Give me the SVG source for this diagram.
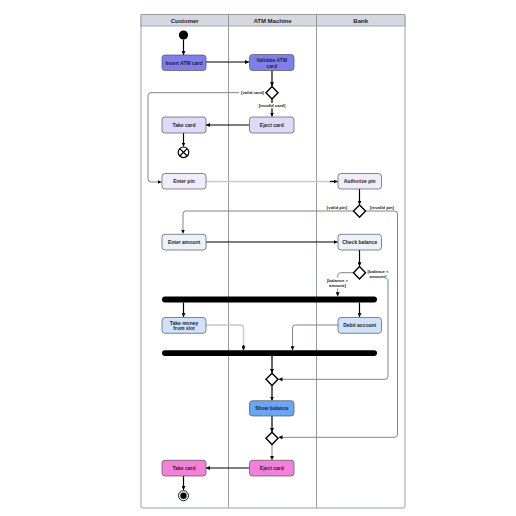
<svg xmlns="http://www.w3.org/2000/svg" width="516" height="516" viewBox="0 0 516 516">
<style>
.lane{fill:none;stroke:#9aa0a8;stroke-width:1}
.hdr{fill:#d5d9df;stroke:#8f949c;stroke-width:0.8}
.ht{font-family:"Liberation Sans",Arial,sans-serif;font-size:6px;font-weight:bold;fill:#222;text-anchor:middle;dominant-baseline:central}
.n{stroke:#555;stroke-width:0.7}
.t{font-family:"Liberation Sans",Arial,sans-serif;font-size:5px;font-weight:bold;fill:#1e1e1e;text-anchor:middle;dominant-baseline:central}
.lb{font-family:"Liberation Sans",Arial,sans-serif;font-size:4.3px;font-weight:bold;fill:#222;text-anchor:middle;dominant-baseline:central}
.c{fill:none;stroke:#000;stroke-width:1.2}
.g{fill:none;stroke:#777;stroke-width:0.9}
.lg{fill:none;stroke:#c8c8c8;stroke-width:1.4}
.d{fill:#fff;stroke:#000;stroke-width:1.4}
.bar{fill:#000}
</style>
<defs>
<marker id="a" viewBox="0 0 6 6" refX="6" refY="3" markerWidth="4" markerHeight="4" markerUnits="userSpaceOnUse" orient="auto"><path d="M0,0 L6,3 L0,6 z" fill="#000"/></marker>
</defs>
<rect x="0" y="0" width="516" height="516" fill="#fff"/>
<g id="swimlanes">
<rect x="141" y="14.5" width="264" height="493.5" rx="2" class="lane"/>
<rect x="141" y="14.5" width="264" height="11.5" class="hdr"/>
<line x1="228.5" y1="14.5" x2="228.5" y2="508" stroke="#80858d" stroke-width="0.8"/>
<line x1="316.5" y1="14.5" x2="316.5" y2="508" stroke="#80858d" stroke-width="0.8"/>
<text x="184.7" y="20.5" class="ht">Customer</text>
<text x="272.5" y="20.5" class="ht">ATM Machine</text>
<text x="360.7" y="20.5" class="ht">Bank</text>
</g>
<g id="connectors">
<path d="M183.5 39.5 V55" class="c" marker-end="url(#a)"/>
<path d="M206 62 H249" class="c" marker-end="url(#a)"/>
<path d="M272 70.5 V86.3" class="c" marker-end="url(#a)"/>
<path d="M266 92.7 H151 Q148 92.7 148 95.7 V179 Q148 182 151 182 H161.5" class="g" marker-end="url(#a)"/>
<path d="M272 99 V116.5" class="c" marker-end="url(#a)"/>
<path d="M249 125 H206" class="c" marker-end="url(#a)"/>
<path d="M183.5 133 V146.5" class="c" marker-end="url(#a)"/>
<path d="M206 181.5 H337.5" class="lg"/>
<path d="M330 181.5 H337.5" class="c" stroke-width="0.1" marker-end="url(#a)"/>
<path d="M359.5 189 V204.7" class="c" marker-end="url(#a)"/>
<path d="M353 211 H186 Q183 211 183 214 V233.5" class="g" marker-end="url(#a)"/>
<path d="M366 211 H394.5 Q397.5 211 397.5 214 V434 Q397.5 437.3 394.5 437.3 H278.5" class="g" marker-end="url(#a)"/>
<path d="M206 242 H337.5" class="c" marker-end="url(#a)"/>
<path d="M359.5 250 V266.3" class="c" marker-end="url(#a)"/>
<path d="M353 272.7 H340.7 Q337.7 272.7 337.7 275.7 V296.3" class="g" marker-end="url(#a)"/>
<path d="M388 279 V376 Q388 379.3 385 379.3 H278.5" class="g" marker-end="url(#a)"/>
<path d="M183.5 302.5 V317" class="c" marker-end="url(#a)"/>
<path d="M359.5 302.5 V317" class="c" marker-end="url(#a)"/>
<path d="M206 325 H240.5 Q243.5 325 243.5 328 V350" class="lg"/>
<path d="M243.5 345 V350.2" class="c" stroke-width="0.1" marker-end="url(#a)"/>
<path d="M338 325 H295.5 Q292.5 325 292.5 328 V350.2" class="g" marker-end="url(#a)"/>
<path d="M272 356 V373" class="c" marker-end="url(#a)"/>
<path d="M272 385.7 V400.5" class="c" marker-end="url(#a)"/>
<path d="M272 416 V432" class="c" marker-end="url(#a)"/>
<path d="M272 444.6 V460" class="g" marker-end="url(#a)"/>
<path d="M249 468 H206" class="c" marker-end="url(#a)"/>
<path d="M183.5 476 V490" class="c" marker-end="url(#a)"/>
<rect x="239" y="90" width="27" height="5.4" fill="#fff"/>
<text x="252.5" y="92.7" class="lb">[valid card]</text>
<rect x="256" y="103" width="32" height="5.4" fill="#fff"/>
<text x="272" y="105.7" class="lb">[invalid card]</text>
<text x="337" y="207" class="lb">[valid pin]</text>
<text x="382" y="207" class="lb">[invalid pin]</text>
<rect x="325" y="277.5" width="25" height="11" fill="#fff"/>
<text x="337.5" y="280.3" class="lb">[balance &gt;</text>
<text x="337.5" y="285.8" class="lb">amount]</text>
<text x="378" y="271" class="lb">[balance &lt;</text>
<text x="378" y="276.5" class="lb">amount]</text>
</g>
<g id="start"><circle cx="183.5" cy="35" r="4.6" fill="#000"/></g>
<g id="insert"><rect x="162" y="55" width="44" height="15.5" rx="3" fill="#7f7ef0" class="n"/><text x="184" y="62.7" class="t">Insert ATM card</text></g>
<g id="validate"><rect x="249.5" y="54.5" width="44.5" height="16" rx="3" fill="#7f7ef0" class="n"/><text x="271.8" y="60" class="t">Validate ATM</text><text x="271.8" y="65.7" class="t">card</text></g>
<g id="d1"><path d="M272 86.5 L278 92.7 L272 99 L266 92.7 Z" class="d"/></g>
<g id="eject1"><rect x="249.5" y="117" width="44.5" height="16" rx="3" fill="#dcdcf8" class="n"/><text x="271.8" y="125" class="t">Eject card</text></g>
<g id="take1"><rect x="162" y="117" width="44" height="16" rx="3" fill="#dcdcf8" class="n"/><text x="184" y="125" class="t">Take card</text></g>
<g id="flowfinal"><circle cx="183.5" cy="152.3" r="5.3" fill="#fff" stroke="#000" stroke-width="1.2"/><path d="M179.8 148.6 L187.2 156 M187.2 148.6 L179.8 156" stroke="#000" stroke-width="1.2"/></g>
<g id="enterpin"><rect x="162" y="173.5" width="44" height="15.5" rx="3" fill="#eeeefb" class="n"/><text x="184" y="181.3" class="t">Enter pin</text></g>
<g id="authpin"><rect x="338" y="173.5" width="43.5" height="15.5" rx="3" fill="#eeeefb" class="n"/><text x="359.7" y="181.3" class="t">Authorize pin</text></g>
<g id="d2"><path d="M359.5 205 L365.5 211 L359.5 217.2 L353.5 211 Z" class="d"/></g>
<g id="enteramount"><rect x="162" y="234.3" width="44" height="15.7" rx="3" fill="#eaf2fc" class="n"/><text x="184" y="242.2" class="t">Enter amount</text></g>
<g id="checkbalance"><rect x="338" y="234.3" width="43.5" height="15.7" rx="3" fill="#eaf2fc" class="n"/><text x="359.7" y="242.2" class="t">Check balance</text></g>
<g id="d3"><path d="M359.5 266.5 L365.5 272.7 L359.5 279 L353.5 272.7 Z" class="d"/></g>
<g id="fork"><rect x="162" y="296.6" width="215" height="5.8" rx="2.9" class="bar"/></g>
<g id="takemoney"><rect x="162" y="317.5" width="44" height="15.8" rx="3" fill="#cfe2fb" class="n"/><text x="184" y="322.6" class="t">Take money</text><text x="184" y="328.4" class="t">from slot</text></g>
<g id="debit"><rect x="338" y="317.5" width="43.5" height="15.8" rx="3" fill="#cfe2fb" class="n"/><text x="359.7" y="325.4" class="t">Debit account</text></g>
<g id="join"><rect x="162" y="350.3" width="215" height="5.6" rx="2.8" class="bar"/></g>
<g id="d4"><path d="M272 373.2 L278 379.3 L272 385.5 L266 379.3 Z" class="d"/></g>
<g id="showbalance"><rect x="249.5" y="400.7" width="44.5" height="15.3" rx="3" fill="#6aa6f6" class="n"/><text x="271.8" y="408.3" class="t">Show balance</text></g>
<g id="d5"><path d="M272 432.2 L278 438.3 L272 444.5 L266 438.3 Z" class="d"/></g>
<g id="eject2"><rect x="249.5" y="460.3" width="44.5" height="15.7" rx="3" fill="#f57fdd" class="n"/><text x="271.8" y="468.2" class="t">Eject card</text></g>
<g id="take2"><rect x="162" y="460.3" width="44" height="15.7" rx="3" fill="#f57fdd" class="n"/><text x="184" y="468.2" class="t">Take card</text></g>
<g id="final"><circle cx="183.5" cy="495.7" r="5" fill="#fff" stroke="#000" stroke-width="0.9"/><circle cx="183.5" cy="495.7" r="3.2" fill="#000"/></g>
</svg>
